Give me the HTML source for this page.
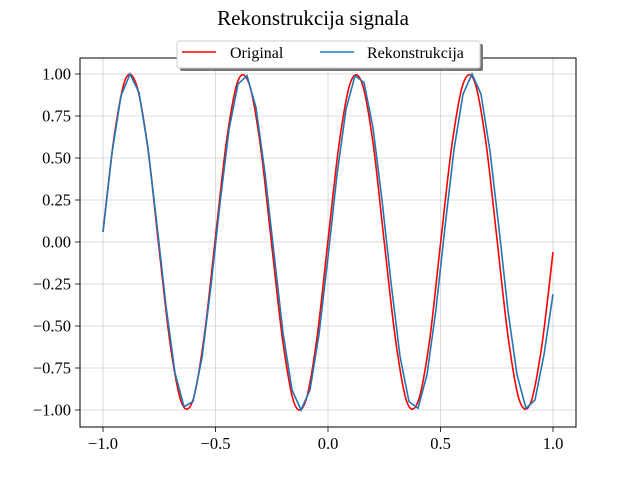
<!DOCTYPE html>
<html><head><meta charset="utf-8"><style>body{margin:0;background:#fff}svg{display:block}text{font-family:"Liberation Serif",serif;fill:#000}</style></head>
<body>
<svg id="c" width="640" height="480"></svg>
<script>
const xTicks=[-1.0,-0.5,0.0,0.5,1.0];
const xTickLabels=["\u22121.0","\u22120.5","0.0","0.5","1.0"];
const yTicks=[-1,-0.75,-0.5,-0.25,0,0.25,0.5,0.75,1];
const yTickLabels=["\u22121.00","\u22120.75","\u22120.50","\u22120.25","0.00","0.25","0.50","0.75","1.00"];
const origStart=-1, origStep=0.05;
const originalValues=[0.06,0.63,0.97,0.93,0.55,-0.05,-0.62,-0.96,-0.94,-0.56,0.03,0.61,0.96,0.94,0.57,-0.02,-0.60,-0.96,-0.95,-0.58,0.01,0.59,0.95,0.95,0.59,0.00,-0.58,-0.95,-0.95,-0.60,-0.01,0.57,0.94,0.96,0.61,0.03,-0.56,-0.94,-0.96,-0.62,-0.06];
const recStart=-1, recStep=0.04;
const reconValues=[0.06,0.53,0.87,1.00,0.89,0.56,0.10,-0.38,-0.78,-0.98,-0.95,-0.69,-0.26,0.23,0.67,0.94,0.99,0.80,0.41,-0.07,-0.54,-0.88,-1.00,-0.88,-0.55,-0.09,0.40,0.79,0.99,0.95,0.68,0.25,-0.24,-0.68,-0.95,-0.99,-0.79,-0.40,0.09,0.55,0.88,1.00,0.88,0.54,0.08,-0.41,-0.79,-0.99,-0.94,-0.67,-0.31];
const NS="http://www.w3.org/2000/svg";
const svg=document.getElementById('c');
const L=80,R=576,T=58,B=427;
const sx=v=>103+(v+1)/2*450;
const sy=v=>410-(v+1)/2*336;
function mk(t,a,p){const e=document.createElementNS(NS,t);for(const k in a)e.setAttribute(k,a[k]);(p||svg).appendChild(e);return e;}
xTicks.forEach((v,i)=>{
 const g=mk('line',{x1:sx(v),x2:sx(v),y1:T,y2:B,stroke:'#b0b0b0','stroke-width':0.8,'stroke-opacity':0.6});
 
 
 const t=mk('line',{x1:sx(v),x2:sx(v),y1:B,y2:B+5,stroke:'#000','stroke-width':0.8});
 
 
 const l=mk('text',{x:sx(v),y:B+22,'text-anchor':'middle','font-size':16.5});
 l.textContent=xTickLabels[i];
 
 
});
yTicks.forEach((v,i)=>{
 const g=mk('line',{x1:L,x2:R,y1:sy(v),y2:sy(v),stroke:'#b0b0b0','stroke-width':0.8,'stroke-opacity':0.6});
 
 
 const t=mk('line',{x1:L-5,x2:L,y1:sy(v),y2:sy(v),stroke:'#000','stroke-width':0.8});
 
 
 const l=mk('text',{x:L-9,y:sy(v)+5.5,'text-anchor':'end','font-size':16.5});
 l.textContent=yTickLabels[i];
 
 
});
const op=originalValues.map((v,i)=>[sx(origStart+i*origStep),sy(v)]);
let d='M'+op[0][0]+','+op[0][1];
for(let i=0;i<op.length-1;i++){const p0=op[Math.max(0,i-1)],p1=op[i],p2=op[i+1],p3=op[Math.min(op.length-1,i+2)];
 d+=` C${p1[0]+(p2[0]-p0[0])/6},${p1[1]+(p2[1]-p0[1])/6} ${p2[0]-(p3[0]-p1[0])/6},${p2[1]-(p3[1]-p1[1])/6} ${p2[0]},${p2[1]}`;}
const o=mk('path',{d:d,fill:'none',stroke:'#ff0000','stroke-width':1.6});


const rp=reconValues.map((v,i)=>sx(recStart+i*recStep)+','+sy(v)).join(' ');
const r=mk('polyline',{points:rp,fill:'none',stroke:'#1f77b4','stroke-width':1.6});


const f=mk('rect',{x:L,y:T,width:R-L,height:B-T,fill:'none',stroke:'#000','stroke-width':1});


</script>
<svg style="position:absolute;left:0;top:0" width="640" height="480">
<text x="313" y="25" text-anchor="middle" font-size="21">Rekonstrukcija signala</text>
<g>
<rect x="180" y="44" width="303" height="27" rx="2" fill="#777"/>
<rect x="177" y="41" width="303" height="27" rx="2" fill="#fff" stroke="#ccc"/>
<line x1="182" x2="216" y1="52" y2="52" stroke="#ff0000" stroke-width="1.6"/>
<text x="230" y="58" font-size="16">Original</text>
<line x1="320" x2="354" y1="52" y2="52" stroke="#1f77b4" stroke-width="1.6"/>
<text x="367" y="58" font-size="16">Rekonstrukcija</text>
</g>
</svg>
</body></html>
